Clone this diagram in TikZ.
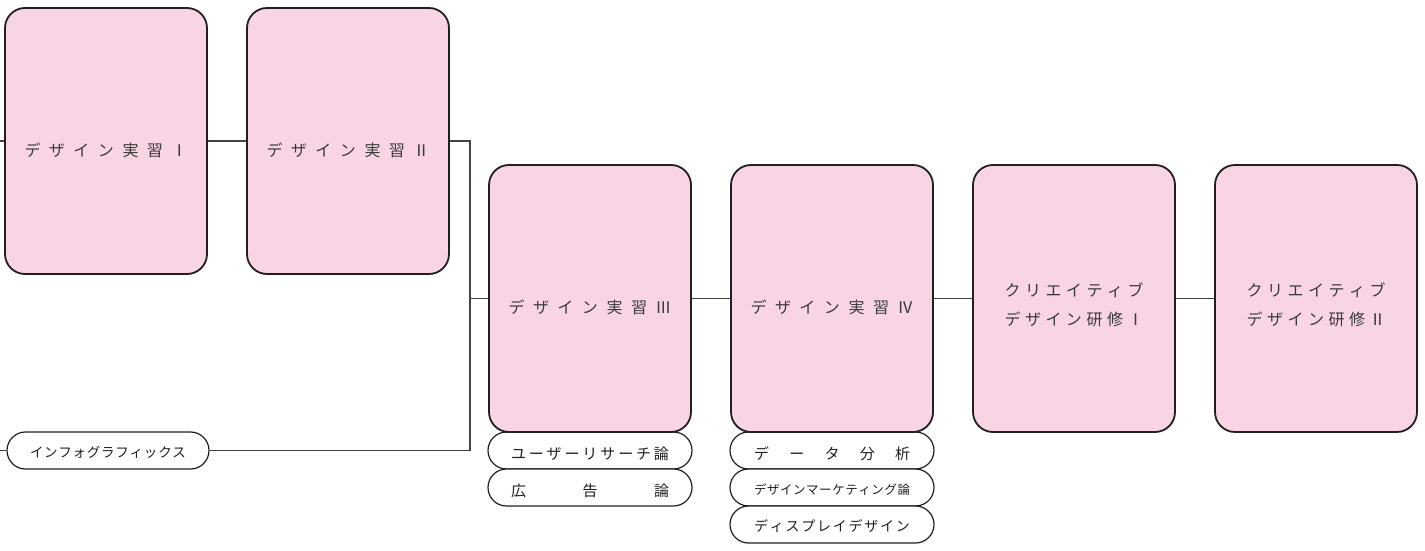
\documentclass[tikz,border=0pt]{standalone}
\usepackage{fontspec}
\newfontfamily\jp{Noto Sans CJK JP}
\definecolor{boxpink}{HTML}{F8D4E5}
\definecolor{ink}{HTML}{231F20}
\definecolor{txtgray}{HTML}{3A3A3A}
\newcommand{\kA}{\hspace{8.5pt}}
\newcommand{\kB}{\hspace{4.5pt}}
\newcommand{\just}[2]{\makebox[#1][s]{#2}}
\newcommand{\hf}{\hfill}
\tikzset{
  cbox/.style={draw=ink, line width=1.8pt, fill=boxpink, rounded corners=20pt,
    minimum width=202pt, minimum height=266pt, inner sep=0pt},
  pill/.style={draw=ink, line width=1.2pt, fill=white, rounded corners=18.5pt,
    minimum width=204pt, minimum height=37pt, inner sep=0pt},
  boxtext/.style={font=\jp\fontsize{16}{29}\selectfont, text=txtgray, align=center, inner sep=0pt},
  pilltext/.style={text=ink, inner sep=0pt},
  link/.style={draw=ink!85, line width=1.1pt}
}
\begin{document}
\begin{tikzpicture}[x=1pt,y=-1pt]
\useasboundingbox (0,0) rectangle (1425,551);
% pills
\node[pill, minimum width=202pt] (info) at (108,450.5) {};
\node[pill] (p31) at (590,450.5) {};
\node[pill] (p32) at (590,487.5) {};
\node[pill] (p41) at (832,450.5) {};
\node[pill] (p42) at (832,487.5) {};
\node[pill] (p43) at (832,524.5) {};
% boxes
\node[cbox] (b1) at (106,141) {};
\node[cbox] (b2) at (348,141) {};
\node[cbox, minimum height=267pt] (b3) at (590,298.5) {};
\node[cbox, minimum height=267pt] (b4) at (832,298.5) {};
\node[cbox, minimum height=267pt] (b5) at (1074,298.5) {};
\node[cbox, minimum height=267pt] (b6) at (1316,298.5) {};
% box texts
\node[boxtext] (t1) at ([yshift=-9pt]b1.center) {デ\kA ザ\kA イ\kA ン\kA 実\kA 習\kA Ⅰ};
\node[boxtext] (t2) at ([yshift=-9pt]b2.center) {デ\kA ザ\kA イ\kA ン\kA 実\kA 習\kA Ⅱ};
\node[boxtext] (t3) at ([yshift=-9pt]b3.center) {デ\kA ザ\kA イ\kA ン\kA 実\kA 習\kA Ⅲ};
\node[boxtext] (t4) at ([yshift=-9pt]b4.center) {デ\kA ザ\kA イ\kA ン\kA 実\kA 習\kA Ⅳ};
\node[boxtext] (t5) at ([yshift=-6pt]b5.center) {ク\kB リ\kB エ\kB イ\kB テ\kB ィ\kB ブ\\デ\kB ザ\kB イ\kB ン\kB 研\kB 修\kB Ⅰ};
\node[boxtext] (t6) at ([yshift=-6pt]b6.center) {ク\kB リ\kB エ\kB イ\kB テ\kB ィ\kB ブ\\デ\kB ザ\kB イ\kB ン\kB 研\kB 修\kB Ⅱ};
% pill texts
\node[pilltext, font=\jp\fontsize{13.5}{14}\selectfont] (ti) at ([yshift=-2pt]info.center) {\just{156pt}{イ\hf ン\hf フ\hf ォ\hf グ\hf ラ\hf フ\hf ィ\hf ッ\hf ク\hf ス}};
\node[pilltext, font=\jp\fontsize{15}{16}\selectfont] (t31) at ([yshift=-3pt]p31.center) {\just{158pt}{ユ\hf ー\hf ザ\hf ー\hf リ\hf サ\hf ー\hf チ\hf 論}};
\node[pilltext, font=\jp\fontsize{15}{16}\selectfont] (t32) at ([yshift=-3pt]p32.center) {\just{158pt}{広\hf 告\hf 論}};
\node[pilltext, font=\jp\fontsize{15}{16}\selectfont] (t41) at ([yshift=-3pt]p41.center) {\just{156pt}{デ\hf ー\hf タ\hf 分\hf 析}};
\node[pilltext, font=\jp\fontsize{12.5}{13}\selectfont] (t42) at ([yshift=-2pt]p42.center) {\just{156pt}{デ\hf ザ\hf イ\hf ン\hf マ\hf ー\hf ケ\hf テ\hf ィ\hf ン\hf グ\hf 論}};
\node[pilltext, font=\jp\fontsize{14}{15}\selectfont] (t43) at ([yshift=-2pt]p43.center) {\just{156pt}{デ\hf ィ\hf ス\hf プ\hf レ\hf イ\hf デ\hf ザ\hf イ\hf ン}};
% connectors
\coordinate (s1) at (0,141);
\coordinate (s2) at (0,450.5);
\coordinate (j) at (470,298.5);
\draw[link] (s1) -- (b1.west);
\draw[link] (b1.east) -- (b2.west);
\draw[link] (b2.east) -| (j);
\draw[link] (info.east) -| (j);
\draw[link] (j) -- (b3.west);
\draw[link] (s2) -- (info.west);
\draw[link] (b3.east) -- (b4.west);
\draw[link] (b4.east) -- (b5.west);
\draw[link] (b5.east) -- (b6.west);
\end{tikzpicture}
\end{document}
